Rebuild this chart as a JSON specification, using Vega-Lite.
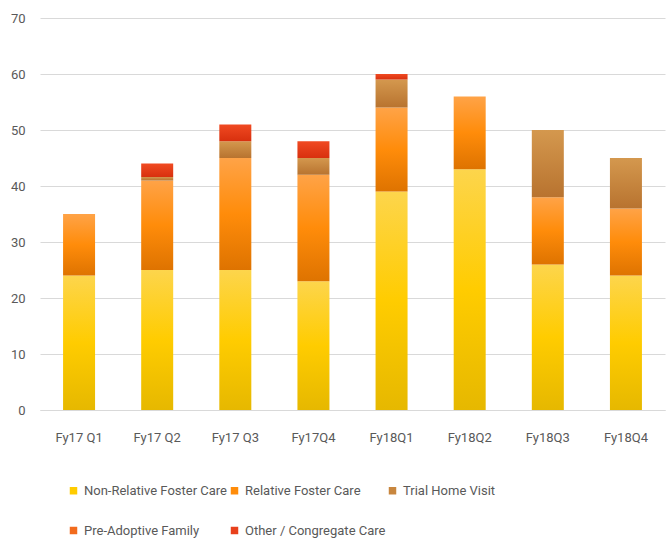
{
  "$schema": "https://vega.github.io/schema/vega-lite/v6.json",
  "width": 625,
  "height": 392,
  "autosize": "none",
  "padding": {"left": 40, "top": 18, "right": 2, "bottom": 138},
  "background": "white",
  "config": {
    "view": {"stroke": null},
    "font": "Roboto",
    "axis": {"labelColor": "#595959", "labelFontSize": 13, "titleColor": "#595959"}
  },
  "data": {"values": [
    {"q": "Fy17 Q1", "type": "Non-Relative Foster Care", "k": 1, "v": 24},
    {"q": "Fy17 Q1", "type": "Relative Foster Care", "k": 2, "v": 11},
    {"q": "Fy17 Q2", "type": "Non-Relative Foster Care", "k": 1, "v": 25},
    {"q": "Fy17 Q2", "type": "Relative Foster Care", "k": 2, "v": 16},
    {"q": "Fy17 Q2", "type": "Trial Home Visit", "k": 3, "v": 0.6},
    {"q": "Fy17 Q2", "type": "Other / Congregate Care", "k": 5, "v": 2.4},
    {"q": "Fy17 Q3", "type": "Non-Relative Foster Care", "k": 1, "v": 25},
    {"q": "Fy17 Q3", "type": "Relative Foster Care", "k": 2, "v": 20},
    {"q": "Fy17 Q3", "type": "Trial Home Visit", "k": 3, "v": 3},
    {"q": "Fy17 Q3", "type": "Other / Congregate Care", "k": 5, "v": 3},
    {"q": "Fy17Q4", "type": "Non-Relative Foster Care", "k": 1, "v": 23},
    {"q": "Fy17Q4", "type": "Relative Foster Care", "k": 2, "v": 19},
    {"q": "Fy17Q4", "type": "Trial Home Visit", "k": 3, "v": 3},
    {"q": "Fy17Q4", "type": "Other / Congregate Care", "k": 5, "v": 3},
    {"q": "Fy18Q1", "type": "Non-Relative Foster Care", "k": 1, "v": 39},
    {"q": "Fy18Q1", "type": "Relative Foster Care", "k": 2, "v": 15},
    {"q": "Fy18Q1", "type": "Trial Home Visit", "k": 3, "v": 5},
    {"q": "Fy18Q1", "type": "Other / Congregate Care", "k": 5, "v": 1},
    {"q": "Fy18Q2", "type": "Non-Relative Foster Care", "k": 1, "v": 43},
    {"q": "Fy18Q2", "type": "Relative Foster Care", "k": 2, "v": 13},
    {"q": "Fy18Q3", "type": "Non-Relative Foster Care", "k": 1, "v": 26},
    {"q": "Fy18Q3", "type": "Relative Foster Care", "k": 2, "v": 12},
    {"q": "Fy18Q3", "type": "Trial Home Visit", "k": 3, "v": 12},
    {"q": "Fy18Q4", "type": "Non-Relative Foster Care", "k": 1, "v": 24},
    {"q": "Fy18Q4", "type": "Relative Foster Care", "k": 2, "v": 12},
    {"q": "Fy18Q4", "type": "Trial Home Visit", "k": 3, "v": 9}
  ]},
  "mark": {"type": "bar", "width": 32},
  "encoding": {
    "x": {
      "field": "q", "type": "nominal", "sort": null, "title": null,
      "axis": {"labelAngle": 0, "ticks": false, "domainColor": "#d9d9d9", "labelPadding": 21, "grid": false}
    },
    "y": {
      "field": "v", "type": "quantitative", "stack": "zero", "title": null,
      "scale": {"domain": [0, 70]},
      "axis": {"values": [0, 10, 20, 30, 40, 50, 60, 70], "domain": false, "ticks": false, "gridColor": "#d9d9d9", "labelPadding": 15}
    },
    "order": {"field": "k", "type": "quantitative"},
    "color": {
      "field": "type", "type": "nominal",
      "condition": [
        {"test": "datum.type === 'Non-Relative Foster Care'", "value": {"gradient": "linear", "x1": 0, "y1": 0, "x2": 0, "y2": 1, "stops": [{"offset": 0, "color": "#FDD54C"}, {"offset": 0.5, "color": "#FFCC00"}, {"offset": 1, "color": "#E6B800"}]}},
        {"test": "datum.type === 'Relative Foster Care'", "value": {"gradient": "linear", "x1": 0, "y1": 0, "x2": 0, "y2": 1, "stops": [{"offset": 0, "color": "#FFA347"}, {"offset": 0.5, "color": "#FF8C0A"}, {"offset": 1, "color": "#DE7300"}]}},
        {"test": "datum.type === 'Trial Home Visit'", "value": {"gradient": "linear", "x1": 0, "y1": 0, "x2": 0, "y2": 1, "stops": [{"offset": 0, "color": "#D4984E"}, {"offset": 1, "color": "#B8732F"}]}},
        {"test": "datum.type === 'Other / Congregate Care'", "value": {"gradient": "linear", "x1": 0, "y1": 0, "x2": 0, "y2": 1, "stops": [{"offset": 0, "color": "#F04A22"}, {"offset": 1, "color": "#D8300E"}]}}
      ],
      "scale": {
        "domain": ["Non-Relative Foster Care", "Relative Foster Care", "Trial Home Visit", "Pre-Adoptive Family", "Other / Congregate Care"],
        "range": ["#FFCC00", "#FF8C0A", "#C8863E", "#F26B1D", "#E8401C"]
      },
      "legend": {
        "title": null, "orient": "none", "legendX": 27, "legendY": 466,
        "direction": "horizontal", "columns": 3, "columnPadding": -2, "rowPadding": 26,
        "symbolType": "square", "symbolSize": 56, "symbolStrokeWidth": 0, "symbolOffset": 0,
        "labelColor": "#595959", "labelFontSize": 13, "labelOffset": 4, "labelLimit": 200
      }
    }
  }
}
